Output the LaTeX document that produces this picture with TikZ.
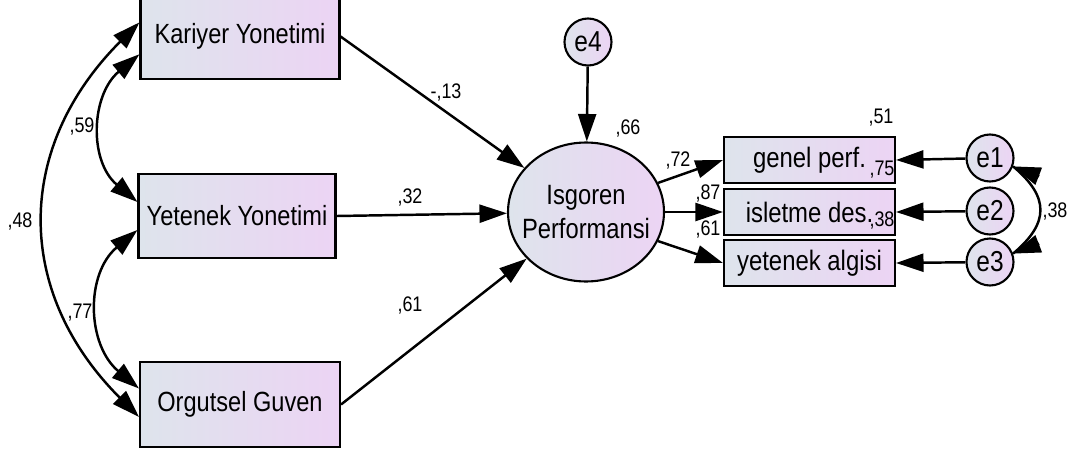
\documentclass[tikz,border=0pt]{standalone}
\usepackage{fontspec}
\setmainfont{Liberation Sans}
\newfontfamily\amosfont[FakeStretch=0.85]{Liberation Sans}
\usetikzlibrary{arrows.meta,calc,shapes.geometric}
\definecolor{fillL}{RGB}{222,228,236}
\definecolor{fillR}{RGB}{236,212,244}
\begin{document}
\begin{tikzpicture}[x=0.02cm,y=-0.02cm,
  >={Triangle[length=0.55cm,width=0.36cm]},
  shade base/.style={draw, line width=1.2pt, left color=fillL, right color=fillR},
  obsbox/.style={shade base, rectangle, inner sep=0pt,
    font=\amosfont\fontsize{15.8}{18}\selectfont},
  itembox/.style={shade base, rectangle, minimum width=3.42cm, minimum height=0.92cm,
    inner sep=0pt, font=\amosfont\fontsize{16}{18}\selectfont},
  latent/.style={shade base, ellipse, inner xsep=-0.2cm, inner ysep=0pt, align=center,
    font=\amosfont\fontsize{15.9}{19.8}\selectfont},
  errc/.style={shade base, circle, minimum size=0.94cm, inner sep=0pt,
    font=\amosfont\fontsize{16.4}{18}\selectfont},
  lbl/.style={inner sep=0pt, font=\amosfont\fontsize{12}{14}\selectfont},
  link/.style={line width=1.4pt, ->},
  cov/.style={line width=1.4pt, <->},
]
\useasboundingbox[fill=white] (0,0) rectangle (1076,453);

% exogenous observed variables
\node[obsbox, minimum width=3.98cm, minimum height=1.7cm] (K) at (240,36.5) {Kariyer Yonetimi};
\node[obsbox, minimum width=3.94cm, minimum height=1.68cm] (Y) at (237,216) {Yetenek Yonetimi};
\node[obsbox, minimum width=4.0cm, minimum height=1.7cm] (O) at (240,404.5) {Orgutsel Guven};

% latent outcome and its disturbance
\node[latent, minimum width=3.12cm, minimum height=2.78cm] (P) at (586,212) {Isgoren\\Performansi};
\node[errc] (e4) at (588,42) {e4};

% indicators and their errors
\node[itembox] (G) at (809.5,160) {genel perf.};
\node[itembox] (I) at (809.5,212) {isletme des.};
\node[itembox] (A) at (809.5,263) {yetenek algisi};
\node[errc] (e1) at (990,158) {e1};
\node[errc] (e2) at (990,211) {e2};
\node[errc] (e3) at (990,262) {e3};

% regression paths
\draw[link] (K.east) -- (P);
\draw[link] (Y.east) -- (P);
\draw[link] (O.east) -- (P);
\draw[link] (e4) -- (P);
\draw[link] (P.22) -- (G.west);
\draw[link] (P.east) -- (I.west);
\draw[link] (P.-22) -- (A.west);
\draw[link] (e1) -- (G.east);
\draw[link] (e2) -- (I.east);
\draw[link] (e3) -- (A.east);

% covariances among the exogenous variables
\draw[cov] (K.190) to[out=220,in=140,looseness=1.1] (Y.172);
\draw[cov] (Y.188) to[out=220,in=140,looseness=1.1] (O.171);
\draw[cov] (K.172) to[out=225,in=135,looseness=1.15] (O.187);

% error covariance e1--e3: full arc, heads laid on top of its ends
\draw[line width=1.4pt] (e1.-20) to[out=-40,in=40,looseness=1.4] (e3.20);
\coordinate (h1) at ($(e1.-20)+(26,10)$);
\coordinate (h3) at ($(e3.20)+(26,-10)$);
\draw[link] (h1) -- (e1.-20);
\draw[link] (h3) -- (e3.20);

% estimates
\node[lbl] (w13) at (446,92) {-,13};
\node[lbl] (w32) at (410,197) {,32};
\node[lbl] (w61) at (410,305) {,61};
\node[lbl] (c59) at (82,126) {,59};
\node[lbl] (c77) at (80,313) {,77};
\node[lbl] (c48) at (20,221) {,48};
\node[lbl] (r66) at (628,128) {,66};
\node[lbl] (w72) at (678,160) {,72};
\node[lbl] (w87) at (708,193) {,87};
\node[lbl] (w61b) at (708,229) {,61};
\node[lbl] (r51) at (881,118) {,51};
\node[lbl] (r75) at (882,170) {,75};
\node[lbl] (r38) at (882,220) {,38};
\node[lbl] (c38) at (1055,211) {,38};
\end{tikzpicture}
\end{document}
